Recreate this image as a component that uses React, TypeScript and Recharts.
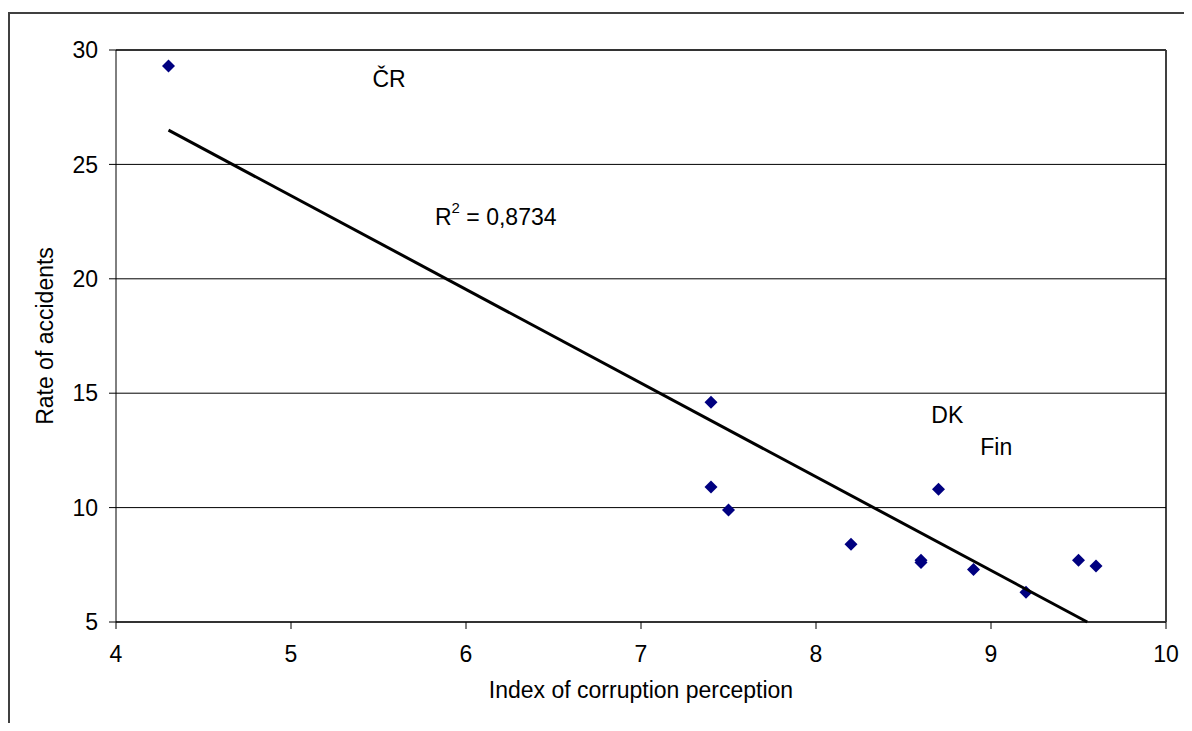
import React from 'react';
import {
  ScatterChart,
  Scatter,
  XAxis,
  YAxis,
  CartesianGrid,
  ReferenceLine,
  ReferenceDot,
} from 'recharts';

// corruption index vs accident rate, one entry per country
const corruptionIndex = [4.3, 7.4, 7.4, 7.5, 8.2, 8.6, 8.6, 8.7, 8.9, 9.2, 9.5, 9.6];
const accidentRate = [29.3, 14.6, 10.9, 9.9, 8.4, 7.6, 7.7, 10.8, 7.3, 6.3, 7.7, 7.45];

// linear trend (ends where it leaves the plot)
const trendX = [4.3, 9.55];
const trendY = [26.5, 5];

const xTicks = [4, 5, 6, 7, 8, 9, 10];
const yTicks = [5, 10, 15, 20, 25, 30];

const noteText = ['ČR', 'DK', 'Fin', 'R'];
const noteSup = ['', '', '', '2'];
const noteRest = ['', '', '', ' = 0,8734'];
const noteX = [5.56, 8.75, 9.03, 6.17];
const noteY = [28.73, 14.05, 12.65, 22.7];

const points = corruptionIndex.map((x, i) => ({ x, y: accidentRate[i] }));
const trend = trendX.map((x, i) => ({ x, y: trendY[i] }));

const FONT = "'Liberation Sans', Arial, sans-serif";

const Diamond = (p: any) => {
  const { cx, cy } = p;
  return (
    <path
      d={`M${cx},${cy - 6.5}L${cx + 6.5},${cy}L${cx},${cy + 6.5}L${cx - 6.5},${cy}Z`}
      fill="#000080"
    />
  );
};

const YTitle = (p: any) => {
  const vb = p.viewBox;
  const x = vb.x + 43;
  const y = vb.y + vb.height / 2;
  return (
    <text x={x} y={y} textAnchor="middle" fontSize={23} fontFamily={FONT} fill="#000"
      transform={`rotate(-90, ${x}, ${y})`}>
      Rate of accidents
    </text>
  );
};

const XTitle = (p: any) => {
  const vb = p.viewBox;
  return (
    <text x={vb.x + vb.width / 2} y={vb.y + 76} textAnchor="middle" fontSize={23}
      fontFamily={FONT} fill="#000">
      Index of corruption perception
    </text>
  );
};

const noteLabel = (i: number) => (p: any) => {
  const vb = p.viewBox;
  const cx = vb.x + vb.width / 2;
  const cy = vb.y + vb.height / 2;
  return (
    <text x={cx} y={cy} textAnchor="middle" dominantBaseline="central" fontSize={23}
      fontFamily={FONT} fill="#000">
      {noteText[i]}
      {noteSup[i] && (
        <tspan fontSize={15} dy={-10}>{noteSup[i]}</tspan>
      )}
      {noteRest[i] && <tspan dy={noteSup[i] ? 10 : 0}>{noteRest[i]}</tspan>}
    </text>
  );
};

export default function App() {
  return (
    <div style={{ paddingTop: 4, fontFamily: FONT }}>
      <div
        style={{
          borderTop: '2px solid #404040',
          borderLeft: '2px solid #404040',
          width: 1184,
          height: 709,
        }}
      >
        <ScatterChart
          width={1174}
          height={705}
          margin={{ top: 36, right: 18, left: 0, bottom: 0 }}
        >
          <CartesianGrid vertical={false} stroke="#000" strokeWidth={1} />
          <XAxis
            type="number"
            dataKey="x"
            domain={[4, 10]}
            ticks={xTicks}
            height={97}
            tickSize={7}
            tickMargin={17}
            stroke="#000"
            axisLine={{ stroke: '#333', strokeWidth: 2 }}
            tick={{ fill: '#000', fontSize: 23, fontFamily: FONT }}
            label={XTitle}
          />
          <YAxis
            type="number"
            dataKey="y"
            domain={[5, 30]}
            ticks={yTicks}
            width={106}
            tickSize={7}
            tickMargin={11}
            stroke="#000"
            tick={{ fill: '#000', fontSize: 23, fontFamily: FONT }}
            label={YTitle}
          />
          <ReferenceLine x={10} stroke="#000" strokeWidth={1.5} />
          <ReferenceLine y={30} stroke="#333" strokeWidth={2} />
          <Scatter data={points} shape={Diamond} isAnimationActive={false} />
          <Scatter
            data={trend}
            fill="#000"
            line={{ stroke: '#000', strokeWidth: 3 }}
            shape={() => <g />}
            isAnimationActive={false}
          />
          {noteText.map((t, i) => (
            <ReferenceDot
              key={t}
              x={noteX[i]}
              y={noteY[i]}
              r={1}
              fill="none"
              stroke="none"
              label={noteLabel(i)}
            />
          ))}
        </ScatterChart>
      </div>
    </div>
  );
}
